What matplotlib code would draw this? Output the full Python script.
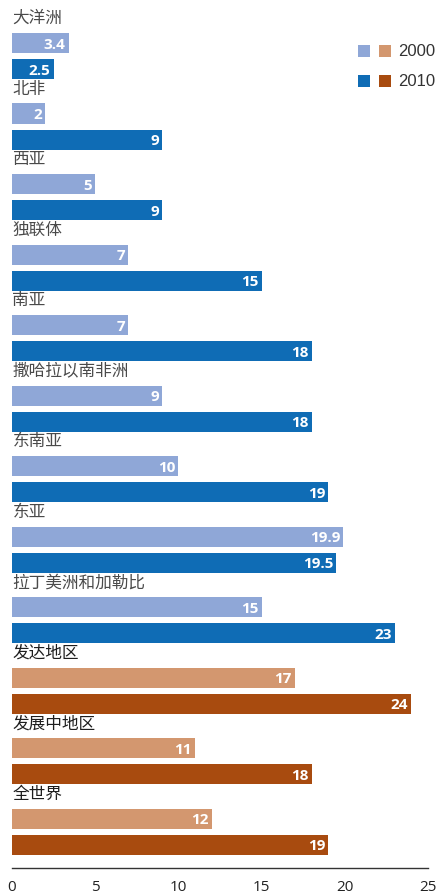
import matplotlib
matplotlib.use('Agg')
import matplotlib.pyplot as plt
from matplotlib.patches import Rectangle
import numpy as np

# regions and shares for 2000 / 2010
regions = ['大洋洲', '北非', '西亚', '独联体', '南亚', '撒哈拉以南非洲', '东南亚',
           '东亚', '拉丁美洲和加勒比', '发达地区', '发展中地区', '全世界']
val_2000 = [3.4, 2, 5, 7, 7, 9, 10, 19.9, 15, 17, 11, 12]
val_2010 = [2.5, 9, 9, 15, 18, 18, 19, 19.5, 23, 24, 18, 19]
x_ticks = [0, 5, 10, 15, 20, 25]

blue_light, blue_dark = '#8fa7d7', '#0f6cb5'
orange_light, orange_dark = '#d3976f', '#a84b0f'
n_blue = 9  # first nine rows are regions, the rest are aggregates

cjk = ['Noto Sans CJK SC', 'DejaVu Sans']

fig = plt.figure(figsize=(4.38, 8.95), dpi=100)
ax = fig.add_axes([12 / 438, 26 / 895, 416 / 438, 869 / 895])

n = len(regions)
g = np.arange(n)
y1 = g + 0.369
y2 = g + 0.738
h = 0.284

c1 = [blue_light if i < n_blue else orange_light for i in g]
c2 = [blue_dark if i < n_blue else orange_dark for i in g]
ax.barh(y1, val_2000, height=h, color=c1, left=0)
ax.barh(y2, val_2010, height=h, color=c2, left=0)

for i in g:
    ax.text(val_2000[i] - 0.18, y1[i] + 0.01, f'{val_2000[i]:g}', ha='right', va='center',
            color='white', fontsize=11, fontweight='bold', family='Open Sans')
    ax.text(val_2010[i] - 0.18, y2[i] + 0.01, f'{val_2010[i]:g}', ha='right', va='center',
            color='white', fontsize=11, fontweight='bold', family='Open Sans')
    ax.text(0.03, g[i] + 0.01, regions[i], ha='left', va='center', fontsize=12,
            color='#1e1e1e' if i >= n_blue else '#4a4a4a',
            fontweight='medium' if i >= n_blue else 'normal', family=cjk)

ax.set_xlim(0, 25)
ax.set_ylim(12.07, -0.255)
ax.set_xticks(x_ticks)
ax.set_xticklabels([str(t) for t in x_ticks], fontsize=11, family='Open Sans', color='#222222')
ax.tick_params(axis='x', length=0, pad=8)
ax.set_yticks([])
for s in ['top', 'left', 'right']:
    ax.spines[s].set_visible(False)
ax.spines['bottom'].set_color('#333333')
ax.spines['bottom'].set_linewidth(1)
ax.set_facecolor('none')

# legend swatches
W, H = 438, 895
for (col_a, col_b, label, py) in [(blue_light, orange_light, '2000', 52),
                                  (blue_dark, orange_dark, '2010', 82)]:
    for px, col in [(358, col_a), (379, col_b)]:
        fig.add_artist(Rectangle((px / W, 1 - (py + 6) / H), 12 / W, 12 / H,
                                 transform=fig.transFigure, color=col, lw=0))
    fig.text(398 / W, 1 - py / H, label, ha='left', va='center', fontsize=12,
             family='Liberation Sans', color='#333333')

fig.savefig('out.png', dpi=100)
